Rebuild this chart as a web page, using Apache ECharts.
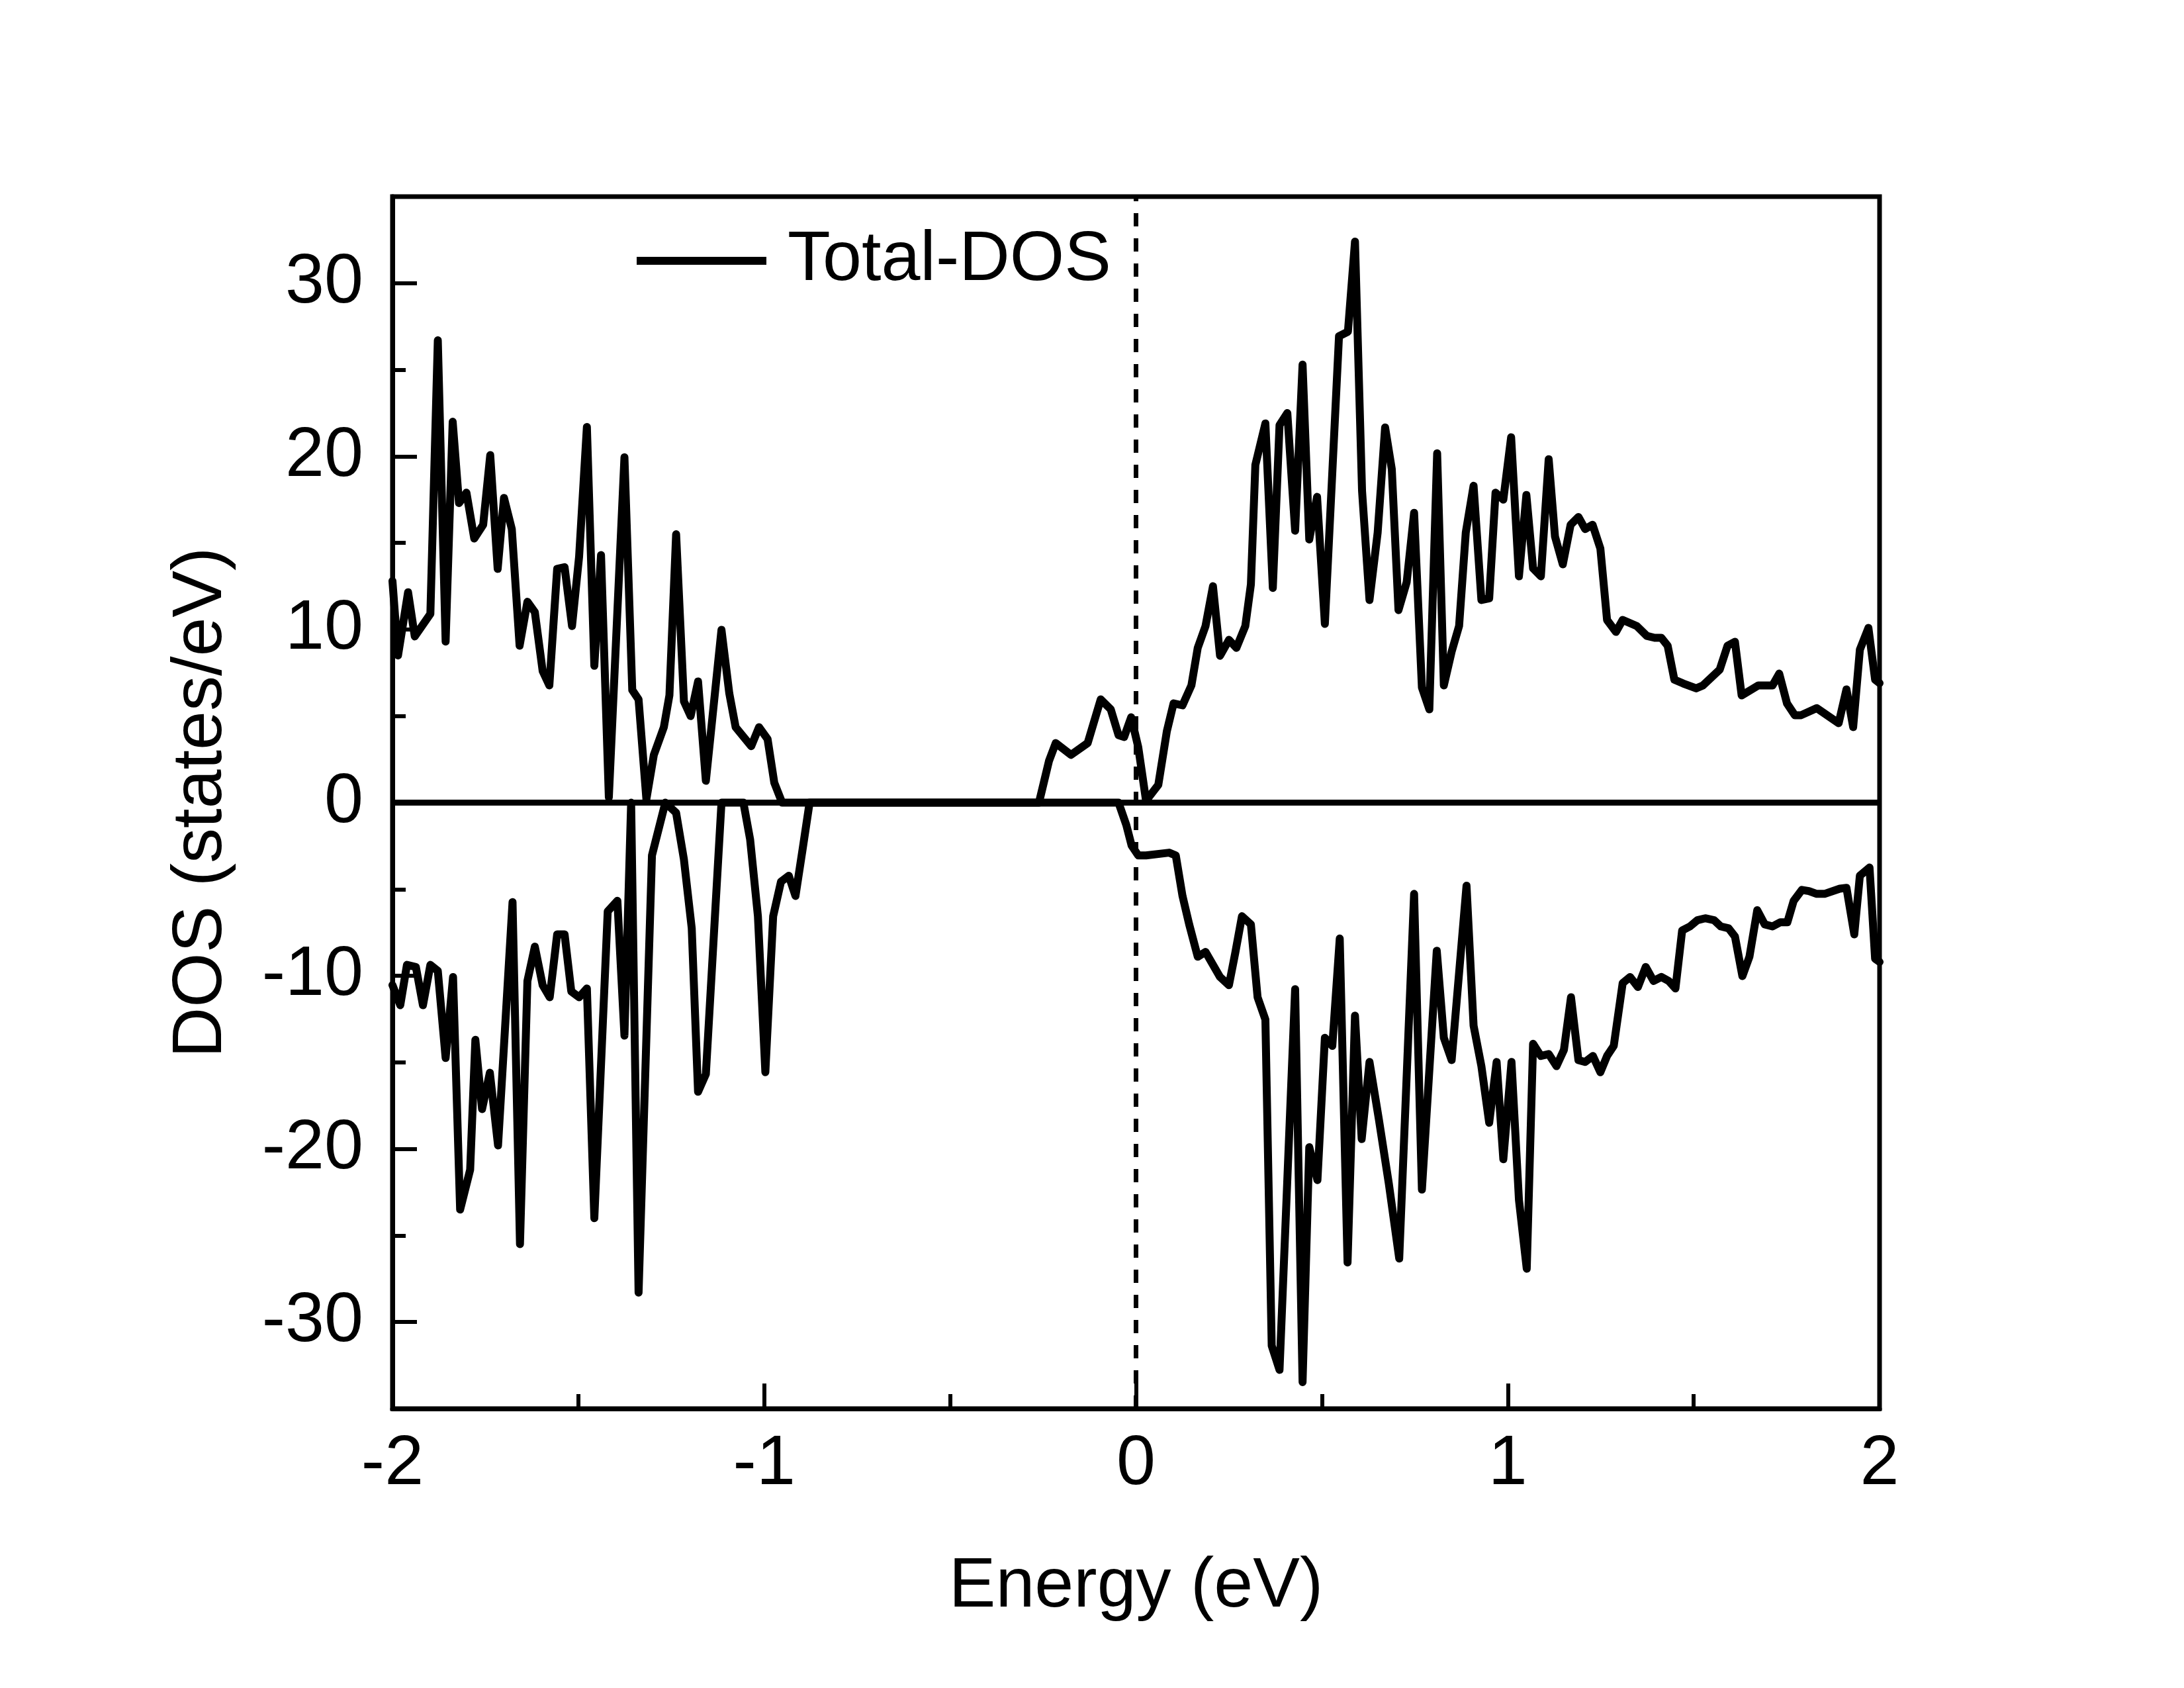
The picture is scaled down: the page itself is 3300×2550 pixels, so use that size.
<!DOCTYPE html>
<html>
<head>
<meta charset="utf-8">
<script src="https://cdn.jsdelivr.net/npm/echarts@6/dist/echarts.min.js"></script>
<style>
html,body{margin:0;padding:0;background:#fff;}
#chart{width:3300px;height:2550px;}
</style>
</head>
<body>
<div id="chart"></div>
<script>
// Spin-up (positive) DOS: energies (eV) and values (states/eV)
const upEnergy = [-2.000,-1.985,-1.958,-1.940,-1.898,-1.878,-1.857,-1.838,-1.821,-1.801,-1.780,-1.756,-1.737,-1.717,-1.700,-1.679,-1.658,-1.637,-1.617,-1.596,-1.578,-1.557,-1.537,-1.517,-1.498,-1.477,-1.457,-1.439,-1.418,-1.376,-1.355,-1.338,-1.317,-1.297,-1.270,-1.255,-1.237,-1.216,-1.198,-1.178,-1.157,-1.115,-1.094,-1.077,-1.035,-1.014,-0.991,-0.973,-0.952,-0.261,-0.234,-0.216,-0.175,-0.130,-0.095,-0.068,-0.047,-0.032,-0.013,0.006,0.027,0.060,0.083,0.101,0.125,0.149,0.166,0.187,0.207,0.226,0.250,0.270,0.294,0.309,0.321,0.348,0.368,0.386,0.407,0.428,0.448,0.466,0.487,0.508,0.546,0.570,0.589,0.608,0.628,0.650,0.670,0.688,0.706,0.728,0.748,0.769,0.789,0.810,0.828,0.849,0.869,0.887,0.908,0.929,0.950,0.967,0.988,1.009,1.030,1.050,1.068,1.089,1.110,1.127,1.148,1.169,1.190,1.208,1.228,1.249,1.267,1.291,1.309,1.347,1.374,1.395,1.413,1.430,1.448,1.472,1.507,1.525,1.570,1.591,1.611,1.629,1.674,1.712,1.730,1.751,1.772,1.789,1.831,1.890,1.911,1.929,1.947,1.970,1.988,2.000];
const upDos = [12.8,8.5,12.15,9.6,10.9,26.7,9.3,22.0,17.3,17.9,15.25,16.05,20.07,13.5,17.6,15.8,9.06,11.6,11.0,7.6,6.77,13.5,13.6,10.2,14.2,21.7,7.9,14.3,0.3,19.95,6.5,5.96,0.2,2.75,4.36,6.2,15.5,5.85,5.0,7.0,1.26,9.98,6.31,4.36,3.26,4.36,3.67,1.15,0,0,2.41,3.44,2.76,3.44,5.96,5.39,3.9,3.79,4.93,3.21,0.11,1.03,4.13,5.73,5.62,6.77,8.94,10.2,12.5,8.48,9.4,8.94,10.2,12.6,19.5,21.9,12.4,21.8,22.5,15.7,25.3,15.2,17.66,10.32,26.94,27.2,32.4,18.0,11.7,15.6,21.67,19.26,11.12,12.73,16.74,6.65,5.39,20.18,6.77,8.72,10.2,15.6,18.3,11.7,11.8,17.9,17.5,21.1,13.07,17.77,13.53,13.07,19.83,15.36,13.76,16.05,16.5,15.8,16.05,14.68,10.55,9.86,10.55,10.2,9.63,9.52,9.52,9.06,7.1,6.88,6.6,6.77,7.68,9.06,9.29,6.19,6.77,6.77,7.45,5.73,5.05,5.05,5.46,4.59,6.54,4.36,8.83,10.09,7.1,6.9];

// Spin-down (negative) DOS
const downEnergy = [-2.000,-1.979,-1.961,-1.937,-1.918,-1.898,-1.878,-1.857,-1.837,-1.818,-1.791,-1.777,-1.759,-1.738,-1.716,-1.677,-1.657,-1.637,-1.617,-1.596,-1.577,-1.557,-1.537,-1.519,-1.498,-1.477,-1.457,-1.421,-1.395,-1.376,-1.358,-1.338,-1.302,-1.266,-1.237,-1.216,-1.195,-1.178,-1.157,-1.115,-1.056,-1.038,-1.017,-0.997,-0.976,-0.955,-0.934,-0.916,-0.896,-0.878,-0.047,-0.026,-0.012,0.006,0.027,0.089,0.107,0.125,0.143,0.166,0.187,0.226,0.250,0.267,0.285,0.309,0.327,0.348,0.365,0.386,0.428,0.448,0.466,0.488,0.508,0.528,0.548,0.569,0.589,0.607,0.628,0.653,0.680,0.708,0.748,0.769,0.809,0.828,0.849,0.889,0.908,0.929,0.950,0.970,0.988,1.010,1.030,1.051,1.068,1.089,1.110,1.131,1.151,1.170,1.190,1.208,1.229,1.249,1.267,1.285,1.309,1.329,1.350,1.371,1.392,1.413,1.433,1.451,1.469,1.490,1.510,1.531,1.555,1.573,1.594,1.611,1.631,1.650,1.671,1.691,1.712,1.733,1.752,1.769,1.791,1.810,1.831,1.852,1.893,1.911,1.932,1.947,1.973,1.988,2.000];
const downDos = [-10.54,-11.7,-9.37,-9.49,-11.7,-9.37,-9.72,-14.75,-10.07,-23.5,-21.2,-13.7,-17.7,-15.6,-19.8,-5.74,-25.5,-10.3,-8.32,-10.54,-11.24,-7.61,-7.61,-10.9,-11.24,-10.73,-24.0,-6.28,-5.67,-13.46,0,-28.3,-3.05,0,-0.59,-3.29,-7.26,-16.7,-15.68,0,0,-2.12,-6.56,-15.57,-6.56,-4.57,-4.22,-5.39,-2.58,0,0,-1.3,-2.47,-3.05,-3.05,-2.89,-3.05,-5.39,-7.03,-8.9,-8.62,-10.07,-10.54,-8.67,-6.56,-7.03,-11.24,-12.53,-31.36,-32.76,-10.77,-33.47,-19.9,-21.8,-13.58,-14.05,-7.85,-26.56,-12.3,-19.43,-14.98,-18.26,-22.0,-26.33,-5.27,-22.35,-8.55,-13.58,-14.87,-4.8,-12.88,-15.22,-18.49,-14.98,-20.6,-14.98,-22.94,-26.92,-13.93,-14.63,-14.52,-15.22,-14.28,-11.24,-14.87,-14.98,-14.63,-15.57,-14.63,-14.05,-10.42,-10.07,-10.65,-9.49,-10.3,-10.07,-10.3,-10.73,-7.38,-7.15,-6.79,-6.68,-6.79,-7.15,-7.26,-7.73,-10.02,-8.9,-6.21,-7.03,-7.15,-6.91,-6.91,-5.67,-5.04,-5.11,-5.27,-5.27,-4.97,-4.92,-7.61,-4.22,-3.75,-9.02,-9.2];

const xTicks = [-2, -1, 0, 1, 2];
const yMajorTicks = [-30, -20, -10, 0, 10, 20, 30];
const yMinorTicks = [-25, -15, -5, 5, 15, 25];
const seriesName = 'Total-DOS';
const xTitle = 'Energy (eV)';
const yTitle = 'DOS (states/eV)';

const FONT = "'Liberation Sans', Arial, Helvetica, sans-serif";
const up = upEnergy.map((e, i) => [e, upDos[i]]);
const down = downEnergy.map((e, i) => [e, downDos[i]]);

const chart = echarts.init(document.getElementById('chart'), null, {renderer: 'canvas', width: 3300, height: 2550, devicePixelRatio: 1});
chart.setOption({
  animation: false,
  backgroundColor: '#fff',
  textStyle: {fontFamily: FONT},
  grid: {left: 593, right: 460, top: 297, bottom: 422, show: true, borderColor: '#000', borderWidth: 7, backgroundColor: 'transparent'},
  legend: {
    data: [seriesName], left: 957, top: 336, icon: 'rect', itemWidth: 196, itemHeight: 12,
    itemStyle: {color: '#000'},
    textStyle: {fontSize: 106, color: '#000', fontFamily: FONT, padding: [0, 0, 0, 27]}
  },
  xAxis: {
    type: 'value', min: xTicks[0], max: xTicks[xTicks.length - 1], interval: 1,
    name: xTitle, nameLocation: 'middle', nameGap: 217,
    nameTextStyle: {fontSize: 106, color: '#000', fontFamily: FONT},
    axisLine: {show: true, onZero: false, lineStyle: {color: '#000', width: 7}},
    axisTick: {show: true, inside: true, length: 38, lineStyle: {color: '#000', width: 6}},
    minorTick: {show: true, splitNumber: 2, length: 22, lineStyle: {color: '#000', width: 6}},
    axisLabel: {fontSize: 106, color: '#000', margin: 32, fontFamily: FONT},
    splitLine: {show: false}
  },
  yAxis: [{
    type: 'value', min: -35, max: 35, position: 'left',
    name: yTitle, nameLocation: 'middle', nameGap: 235, nameRotate: 90,
    nameTextStyle: {fontSize: 106, color: '#000', fontFamily: FONT},
    axisLine: {show: true, onZero: false, lineStyle: {color: '#000', width: 7}},
    axisTick: {show: true, inside: true, length: 37, customValues: yMajorTicks, lineStyle: {color: '#000', width: 6}},
    axisLabel: {fontSize: 106, color: '#000', margin: 44, customValues: yMajorTicks, fontFamily: FONT},
    splitLine: {show: false}
  }, {
    type: 'value', min: -35, max: 35, position: 'left', offset: 0,
    axisLine: {show: false, onZero: false},
    axisTick: {show: true, inside: true, length: 20, customValues: yMinorTicks, lineStyle: {color: '#000', width: 6}},
    axisLabel: {show: false},
    splitLine: {show: false}
  }],
  series: [{
    name: seriesName, type: 'line', data: up, symbol: 'none', yAxisIndex: 0,
    lineStyle: {color: '#000', width: 12, join: 'round', cap: 'round'},
    itemStyle: {color: '#000'},
    markLine: {
      silent: true, symbol: 'none', label: {show: false},
      data: [
        {xAxis: 0, lineStyle: {color: '#000', width: 7, type: [20, 18]}},
        {yAxis: 0, lineStyle: {color: '#000', width: 9, type: 'solid'}}
      ]
    }
  }, {
    name: seriesName, type: 'line', data: down, symbol: 'none', yAxisIndex: 0,
    lineStyle: {color: '#000', width: 12, join: 'round', cap: 'round'},
    itemStyle: {color: '#000'}
  }]
});
</script>
</body>
</html>
